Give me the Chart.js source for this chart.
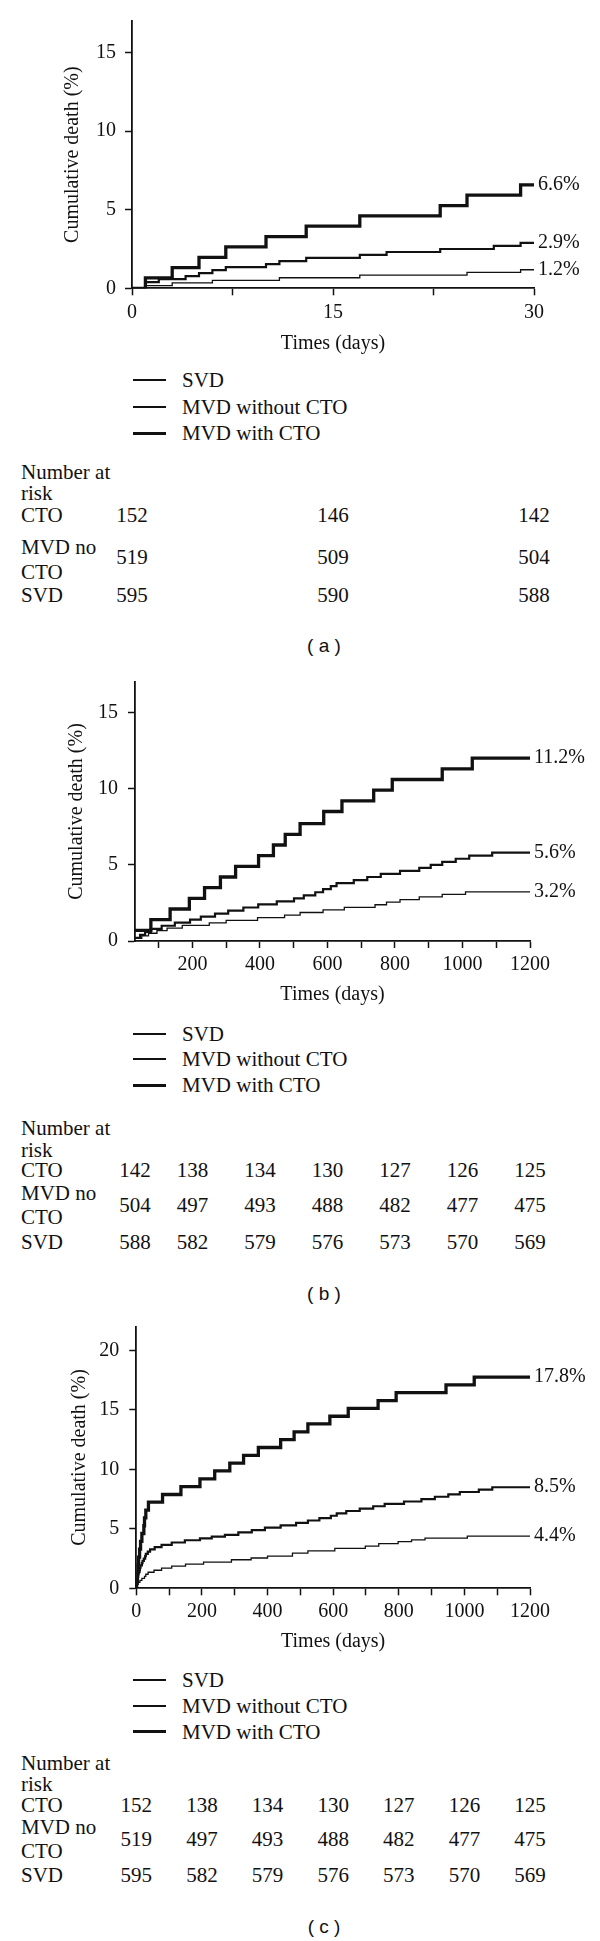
<!DOCTYPE html>
<html><head><meta charset="utf-8">
<script src="https://cdn.jsdelivr.net/npm/chart.js@4/dist/chart.umd.min.js"></script>
<style>
html,body{margin:0;padding:0;background:#fff;}
#page{position:relative;width:600px;height:1941px;overflow:hidden;background:#fff;font-family:"Liberation Serif","Times New Roman",serif;color:#111;}
canvas{position:absolute;left:0;}
.t{position:absolute;white-space:nowrap;font-size:21px;line-height:1;transform:translateY(-50%);}
.n{position:absolute;white-space:nowrap;font-size:21px;line-height:1;transform:translate(-50%,-50%);}
.cap{position:absolute;white-space:pre;font-family:"Liberation Sans",Arial,sans-serif;font-size:19px;line-height:1;transform:translate(-50%,-50%);color:#111;}
.lg{position:absolute;background:#111;}
</style></head><body><div id="page"></div>
<script>
// ---------- DATA ----------
const seriesNames = ['SVD', 'MVD without CTO', 'MVD with CTO'];
const riskRowLabels = ['CTO', 'MVD no CTO', 'SVD'];

// Panel (a): 0-30 days
const aSvdDays = [0,1,3,6,11,17,25,29,30];
const aSvdVals = [0,0.17,0.34,0.50,0.67,0.84,1.01,1.18,1.18];
const aMvdDays = [0,1,2,4,5,6,7,10,11,13,17,19,23,27,29,30];
const aMvdVals = [0,0.39,0.58,0.77,0.96,1.16,1.35,1.54,1.73,1.93,2.12,2.31,2.50,2.70,2.89,2.89];
const aCtoDays = [0,1,3,5,7,10,13,17,23,25,29,30];
const aCtoVals = [0,0.66,1.32,1.97,2.63,3.29,3.95,4.61,5.26,5.92,6.58,6.58];
const aEndLabels = ['1.2%','2.9%','6.6%'];
const aXTicks = [0,7.5,15,22.5,30];
const aXLabels = [0,15,30];
const aYTicks = [0,5,10,15];
const aRiskCols = [0,15,30];
const aRiskCto = [152,146,142];
const aRiskMvd = [519,509,504];
const aRiskSvd = [595,590,588];

// Panel (b): 30-1200 days
const bSvdDays = [30,50,70,95,125,170,250,300,393,473,519,587,650,741,775,815,872,940,1009,1200];
const bSvdVals = [0.17,0.34,0.51,0.68,0.85,1.02,1.19,1.36,1.53,1.70,1.87,2.04,2.21,2.38,2.55,2.72,2.89,3.06,3.23,3.23];
const bMvdDays = [30,45,60,77,109,148,193,225,267,306,351,395,450,501,530,564,587,610,627,678,718,758,815,872,906,940,980,1020,1088,1200];
const bMvdVals = [0.2,0.4,0.6,0.8,1.0,1.2,1.4,1.6,1.8,2.0,2.2,2.4,2.6,2.8,3.0,3.2,3.4,3.6,3.8,4.0,4.2,4.4,4.6,4.8,5.0,5.2,5.4,5.6,5.8,5.8];
const bCtoDays = [30,77,134,191,236,283,328,396,440,475,519,589,643,737,792,940,1029,1200];
const bCtoVals = [0.7,1.4,2.1,2.8,3.5,4.2,4.9,5.6,6.3,7.0,7.7,8.5,9.2,9.9,10.6,11.3,12.0,12.0];
const bEndLabels = ['3.2%','5.6%','11.2%'];
const bXTicks = [100,200,300,400,500,600,700,800,900,1000,1100,1200];
const bXLabels = [200,400,600,800,1000,1200];
const bYTicks = [0,5,10,15];
const bRiskCols = [30,200,400,600,800,1000,1200];
const bRiskCto = [142,138,134,130,127,126,125];
const bRiskMvd = [504,497,493,488,482,477,475];
const bRiskSvd = [588,582,579,576,573,570,569];

// Panel (c): 0-1200 days
const cSvdDays = [0,1,3,6,11,17,25,29,36,54,77,108,150,205,290,350,400,476,523,605,698,739,798,839,880,1009,1200];
const cSvdVals = [0,0.17,0.34,0.50,0.67,0.84,1.01,1.18,1.35,1.52,1.69,1.86,2.03,2.20,2.40,2.55,2.70,2.95,3.15,3.35,3.55,3.75,3.92,4.08,4.22,4.38,4.38];
const cMvdDays = [0,1,2,4,5,6,7,10,11,13,17,19,23,27,29,35,42,56,77,108,148,194,230,270,311,352,392,440,487,523,558,593,611,640,681,722,757,816,869,910,951,986,1044,1085,1200];
const cMvdVals = [0,0.39,0.58,0.77,0.96,1.16,1.35,1.54,1.73,1.93,2.12,2.31,2.50,2.70,2.89,3.08,3.27,3.46,3.66,3.85,4.04,4.2,4.35,4.5,4.7,4.9,5.1,5.3,5.5,5.7,5.9,6.1,6.3,6.5,6.7,6.9,7.1,7.3,7.5,7.7,7.9,8.1,8.3,8.5,8.5];
const cCtoDays = [0,1,3,5,7,10,13,17,23,25,29,37,80,136,194,239,285,327,372,440,481,523,590,646,737,792,944,1030,1200];
const cCtoVals = [0,0.66,1.32,1.97,2.63,3.29,3.95,4.61,5.26,5.92,6.58,7.24,7.89,8.55,9.21,9.87,10.53,11.18,11.84,12.5,13.16,13.82,14.47,15.13,15.79,16.45,17.11,17.76,17.76];
const cEndLabels = ['4.4%','8.5%','17.8%'];
const cXTicks = [0,100,200,300,400,500,600,700,800,900,1000,1100,1200];
const cXLabels = [0,200,400,600,800,1000,1200];
const cYTicks = [0,5,10,15,20];
const cRiskCols = [0,200,400,600,800,1000,1200];
const cRiskCto = [152,138,134,130,127,126,125];
const cRiskMvd = [519,497,493,488,482,477,475];
const cRiskSvd = [595,582,579,576,573,570,569];

// ---------- STYLE / LAYOUT ----------
const FONT = '"Liberation Serif", "Times New Roman", serif';
const INK = '#111';
const lineWidths = [1.3, 2.2, 3.3];
const legendWidths = [1.2, 2.0, 3.0];

const endLabelPlugin = {
  id: 'endLabels',
  afterDatasetsDraw(chart) {
    const ctx = chart.ctx;
    ctx.save();
    ctx.font = '20px ' + FONT;
    ctx.fillStyle = INK;
    ctx.textBaseline = 'middle';
    ctx.textAlign = 'left';
    chart.data.datasets.forEach((ds, i) => {
      const meta = chart.getDatasetMeta(i);
      const pt = meta.data[meta.data.length - 1];
      ctx.fillText(ds.endLabel, pt.x + 4, pt.y);
    });
    ctx.restore();
  }
};

const page = document.getElementById('page');
function addDiv(cls, text, x, y) {
  const d = document.createElement('div');
  d.className = cls;
  d.textContent = text;
  d.style.left = x + 'px';
  d.style.top = y + 'px';
  page.appendChild(d);
  return d;
}

function makePanel(p) {
  const cv = document.createElement('canvas');
  cv.width = 600; cv.height = p.h;
  cv.style.width = '600px'; cv.style.height = p.h + 'px';
  cv.style.top = p.top + 'px';
  page.appendChild(cv);
  const datasets = p.series.map((s, i) => ({
    label: seriesNames[i],
    data: s.days.map((d, k) => ({x: d, y: s.vals[k]})),
    stepped: 'before',
    borderColor: INK,
    borderWidth: lineWidths[i],
    pointRadius: 0,
    fill: false,
    endLabel: p.endLabels[i]
  }));
  const tickFont = {family: FONT, size: 20};
  const chart = new Chart(cv, {
    type: 'line',
    data: {datasets},
    options: {
      responsive: false, animation: false, devicePixelRatio: 1,
      layout: {padding: {left: 0, top: p.padTop, right: 600 - p.right, bottom: 0}},
      plugins: {legend: {display: false}, tooltip: {enabled: false}},
      scales: {
        x: {
          type: 'linear', min: p.xMin, max: p.xMax,
          afterBuildTicks: s => { s.ticks = p.xTicks.map(v => ({value: v})); },
          afterFit: s => { s.height = p.xAxisH; },
          ticks: {autoSkip: false, maxRotation: 0, padding: p.xTickPad, color: INK, font: tickFont,
                  callback: v => p.xLabels.includes(v) ? String(v) : ''},
          grid: {drawOnChartArea: false, drawTicks: true, tickLength: 7, tickColor: INK, tickWidth: 1.5, color: INK},
          border: {display: true, color: INK, width: 1.8},
          title: {display: true, text: 'Times (days)', color: INK, font: tickFont, padding: {top: 0, bottom: p.xTitlePad}}
        },
        y: {
          type: 'linear', min: 0, max: p.yMax,
          afterBuildTicks: s => { s.ticks = p.yTicks.map(v => ({value: v})); },
          afterFit: s => { s.width = p.left; },
          ticks: {padding: p.yTickPad, color: INK, font: tickFont},
          grid: {drawOnChartArea: false, drawTicks: true, tickLength: 7, tickColor: INK, tickWidth: 1.5, color: INK},
          border: {display: true, color: INK, width: 1.8},
          title: {display: true, text: 'Cumulative death (%)', color: INK, font: tickFont, padding: {top: p.yTitlePad, bottom: 0}}
        }
      }
    },
    plugins: [endLabelPlugin]
  });

  // Legend
  seriesNames.forEach((name, i) => {
    const y = p.legendY[i];
    const ln = document.createElement('div');
    ln.className = 'lg';
    ln.style.left = '133px'; ln.style.width = '33px';
    ln.style.top = (y - legendWidths[i] / 2) + 'px';
    ln.style.height = legendWidths[i] + 'px';
    page.appendChild(ln);
    addDiv('t', name, 182, y);
  });

  // Number at risk table
  addDiv('t', 'Number at', 21, p.tab.num1);
  addDiv('t', 'risk', 21, p.tab.num2);
  addDiv('t', 'CTO', 21, p.tab.cto);
  addDiv('t', 'MVD no', 21, p.tab.mvd1);
  addDiv('t', 'CTO', 21, p.tab.mvd2);
  addDiv('t', 'SVD', 21, p.tab.svd);
  const xs = chart.scales.x;
  p.riskCols.forEach((c, k) => {
    const x = xs.getPixelForValue(c);
    addDiv('n', String(p.risk[0][k]), x, p.tab.cto);
    addDiv('n', String(p.risk[1][k]), x, p.tab.mvdNum);
    addDiv('n', String(p.risk[2][k]), x, p.tab.svd);
  });
  addDiv('cap', p.caption, 324, p.tab.cap);
  return chart;
}

makePanel({
  top: 0, h: 360, padTop: 21, left: 132, right: 534, xAxisH: 71.7, xTitlePad: 4.7, yTitlePad: 61, xTickPad: 5, yTickPad: 9,
  xMin: 0, xMax: 30, yMax: 17, xTicks: aXTicks, xLabels: aXLabels, yTicks: aYTicks,
  series: [{days: aSvdDays, vals: aSvdVals}, {days: aMvdDays, vals: aMvdVals}, {days: aCtoDays, vals: aCtoVals}],
  endLabels: aEndLabels,
  legendY: [380, 406.7, 433.3],
  riskCols: aRiskCols, risk: [aRiskCto, aRiskMvd, aRiskSvd],
  tab: {num1: 472, num2: 493.3, cto: 515, mvd1: 546.7, mvd2: 571.7, mvdNum: 557, svd: 595, cap: 645},
  caption: '( a )'
});
makePanel({
  top: 660, h: 360, padTop: 20.7, left: 135, right: 530, xAxisH: 79, xTitlePad: 13, yTitlePad: 65, xTickPad: 5, yTickPad: 10,
  xMin: 30, xMax: 1200, yMax: 17, xTicks: bXTicks, xLabels: bXLabels, yTicks: bYTicks,
  series: [{days: bSvdDays, vals: bSvdVals}, {days: bMvdDays, vals: bMvdVals}, {days: bCtoDays, vals: bCtoVals}],
  endLabels: bEndLabels,
  legendY: [1034, 1059.3, 1085],
  riskCols: bRiskCols, risk: [bRiskCto, bRiskMvd, bRiskSvd],
  tab: {num1: 1128.3, num2: 1150, cto: 1170, mvd1: 1193.3, mvd2: 1216.7, mvdNum: 1205, svd: 1241.7, cap: 1292.5},
  caption: '( b )'
});
makePanel({
  top: 1300, h: 360, padTop: 26.7, left: 136.3, right: 530, xAxisH: 71.7, xTitlePad: 6.3, yTitlePad: 68, xTickPad: 4.4, yTickPad: 10,
  xMin: 0, xMax: 1200, yMax: 22, xTicks: cXTicks, xLabels: cXLabels, yTicks: cYTicks,
  series: [{days: cSvdDays, vals: cSvdVals}, {days: cMvdDays, vals: cMvdVals}, {days: cCtoDays, vals: cCtoVals}],
  endLabels: cEndLabels,
  legendY: [1680, 1706, 1731.7],
  riskCols: cRiskCols, risk: [cRiskCto, cRiskMvd, cRiskSvd],
  tab: {num1: 1763.3, num2: 1784, cto: 1805, mvd1: 1827.3, mvd2: 1850.7, mvdNum: 1839.3, svd: 1875, cap: 1925.8},
  caption: '( c )'
});
</script></body></html>
